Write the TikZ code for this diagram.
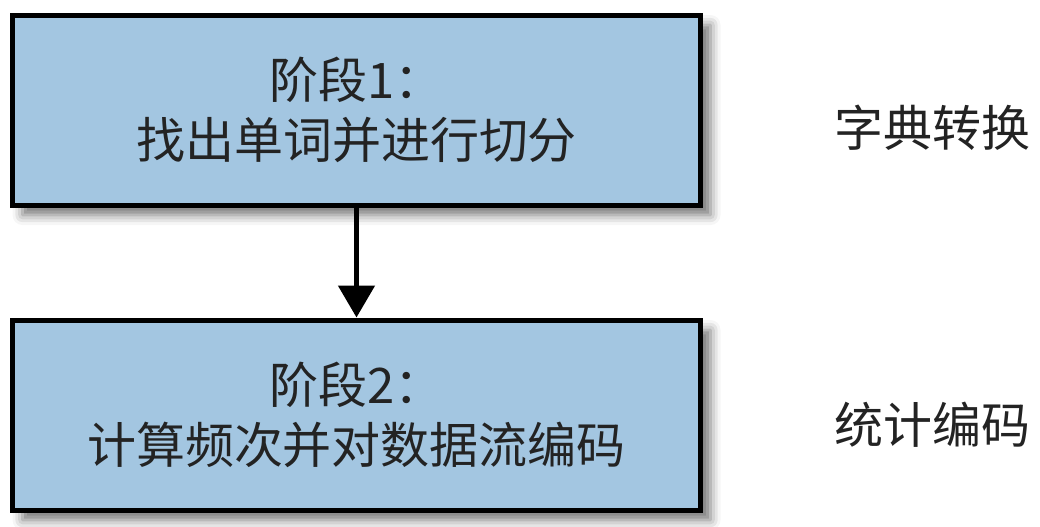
\documentclass[tikz,border=0pt]{standalone}
\usepackage{fontspec}
\newfontfamily\cjk{Noto Sans CJK SC}
\usetikzlibrary{shadows.blur,arrows.meta}
\definecolor{boxblue}{RGB}{163,198,225}
\definecolor{txtgray}{RGB}{35,35,35}
\begin{document}
\begin{tikzpicture}[x=0.5pt, y=-0.5pt,
  every node/.style={font=\cjk\fontsize{24.5}{30}\selectfont, text=txtgray},
  stagebox/.style={draw=black, line width=2.5pt, fill=boxblue, minimum width=344pt, minimum height=95pt,
    align=center, inner sep=0pt,
    blur shadow={shadow xshift=5pt, shadow yshift=-5pt, shadow blur radius=5pt, shadow opacity=55}}]
  \useasboundingbox (0,0) rectangle (1040,526);
  \node[stagebox] (s1) at (356.5,110) {阶段1：\\找出单词并进行切分};
  \node[stagebox] (s2) at (356.5,415) {阶段2：\\计算频次并对数据流编码};
  \draw[line width=2.5pt, -{Triangle[width=18pt,length=16pt]}] (s1.south) -- (s2.north);
  \node (t1) at (932,128) {字典转换};
  \node (t2) at (932,425) {统计编码};
\end{tikzpicture}
\end{document}
